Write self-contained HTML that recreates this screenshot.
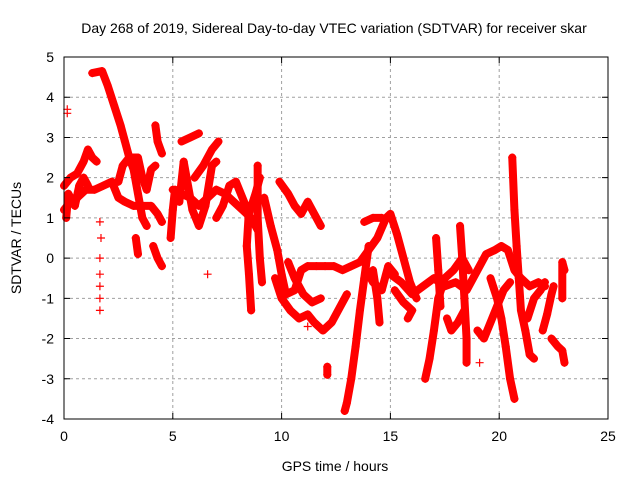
<!DOCTYPE html>
<html><head><meta charset="utf-8"><style>
body{margin:0;background:#fff;}
svg{display:block;font-family:"Liberation Sans",sans-serif;}
</style></head><body>
<svg id="chart" width="640" height="480" viewBox="0 0 640 480" xmlns="http://www.w3.org/2000/svg">
<rect width="640" height="480" fill="#fff"/>
<text x="334" y="33" font-size="14" text-anchor="middle">Day 268 of 2019, Sidereal Day-to-day VTEC variation (SDTVAR) for receiver skar</text>
<text x="335" y="471" font-size="14" text-anchor="middle">GPS time / hours</text>
<text x="0" y="0" font-size="14" text-anchor="middle" transform="translate(21,238) rotate(-90)">SDTVAR / TECUs</text>
<g id="grid"></g><g id="series"></g><g id="axes"></g>
</svg>
<script>
const xTicks=[0,5,10,15,20,25];
const yTicks=[-4,-3,-2,-1,0,1,2,3,4,5];
const tracks=[
[[0,1.2],[0.3,1.4],[0.6,1.5],[1,1.7],[1.4,1.7],[1.8,1.8],[2.2,1.9],[2.5,1.5],[2.8,1.4],[3.2,1.3],[3.6,1.3],[4,1.3],[4.3,1.1],[4.5,0.9]],
[[0,1.8],[0.3,2.0],[0.6,2.1],[0.9,2.4],[1.1,2.7],[1.3,2.5],[1.5,2.4]],
[[0.1,1.0],[0.2,1.6],[0.5,1.3],[0.7,1.8],[0.9,2.0],[1.1,1.8]],
[[1.3,4.6],[1.75,4.65],[2.0,4.3],[2.3,3.8],[2.6,3.3],[2.8,2.9],[3.0,2.5],[3.2,2.2],[3.4,1.6],[3.6,1.0],[3.8,0.8]],
[[2.5,1.9],[2.7,2.3],[3.0,2.5],[3.4,2.5],[3.6,2.0],[3.8,1.7],[4.0,2.2],[4.2,2.3]],
[[3.3,0.5],[3.4,0.1]],
[[4.2,3.3],[4.3,2.9],[4.5,2.6]],
[[4.1,0.3],[4.3,0.0],[4.5,-0.2]],
[[4.9,0.5],[5.0,1.2],[5.1,1.7],[5.3,1.4],[5.5,2.4],[5.7,1.8],[5.9,1.2],[6.2,0.8],[6.5,1.3],[6.8,2.3],[7.0,2.4]],
[[5.0,1.7],[5.4,1.6],[5.8,1.5],[6.2,1.3],[6.6,1.5],[7.0,1.7],[7.4,1.6],[7.8,1.4],[8.2,1.2],[8.6,1.0],[8.9,0.7]],
[[5.4,2.9],[5.8,3.0],[6.2,3.1]],
[[6.0,2.0],[6.4,2.3],[6.8,2.7],[7.1,2.9]],
[[7.0,1.0],[7.3,1.3],[7.6,1.8],[7.9,1.9],[8.2,1.5],[8.5,1.1],[8.8,1.6],[9,2.0]],
[[9.9,1.9],[10.3,1.6],[10.6,1.3],[10.9,1.1],[11.2,1.4],[11.5,1.1],[11.8,0.8]],
[[9.2,1.5],[9.5,0.8],[9.8,0.2],[10.0,-0.4],[10.2,-0.9],[10.6,-0.8],[10.9,-0.3],[11.2,-0.2],[11.6,-0.2],[12,-0.2],[12.4,-0.2],[12.8,-0.3],[13.2,-0.2],[13.6,-0.1],[14,0.2],[14.4,0.5],[14.8,1.0],[15,1.1],[15.3,0.6],[15.6,0.0],[15.9,-0.6],[16.2,-1.0]],
[[8.5,1.2],[8.4,0.3],[8.5,-0.4],[8.6,-1.3]],
[[8.9,2.3],[8.9,1.0],[9.0,0.0],[9.1,-0.6]],
[[9.7,-0.5],[10.0,-1.0],[10.4,-1.3],[10.8,-1.5],[11.2,-1.4],[11.5,-1.6],[11.9,-1.8],[12.3,-1.6],[12.7,-1.2],[13.0,-0.9]],
[[10.3,-0.1],[10.6,-0.5],[11.0,-0.9],[11.4,-1.1],[11.8,-1.0]],
[[14.0,0.3],[13.8,-0.5],[13.6,-1.3],[13.4,-2.2],[13.2,-3.0],[13.0,-3.6],[12.9,-3.8]],
[[12.1,-2.7],[12.1,-2.9]],
[[16.6,-3.0],[16.8,-2.5],[17.0,-1.8],[17.2,-1.0],[17.5,-0.5],[17.9,-0.3],[18.3,0.0],[18.6,-0.3]],
[[15.0,-0.4],[15.5,-0.6],[16.0,-0.9],[16.5,-0.7],[17,-0.5],[17.5,-0.7],[18,-0.6],[18.5,-0.8],[19,-0.3],[19.4,0.1],[19.8,0.2],[20.1,0.3],[20.4,0.2],[20.7,-0.3],[21,-0.5],[21.4,-0.7],[21.8,-0.6],[22.1,-0.7]],
[[18.2,0.8],[18.3,0],[18.4,-1.0],[18.5,-2.0],[18.5,-2.6]],
[[20.6,2.5],[20.7,1.2],[20.8,0.3],[20.9,-0.5],[21.0,-1.3],[21.2,-1.8],[21.4,-2.4],[21.6,-2.5]],
[[19.6,-0.5],[19.9,-1.0],[20.1,-1.5],[20.3,-2.2],[20.5,-3.0],[20.7,-3.5]],
[[19.0,-1.8],[19.3,-2.0],[19.6,-1.6],[19.9,-1.2],[20.2,-0.8],[20.5,-0.6]],
[[22.0,-1.8],[22.2,-1.4],[22.4,-0.9],[22.5,-0.7]],
[[22.4,-2.0],[22.7,-2.2],[22.9,-2.3],[23,-2.6]],
[[22.9,-1.0],[22.9,-0.1],[23,-0.3]],
[[21.3,-1.5],[21.6,-1.0],[21.9,-0.8],[22.1,-0.6]],
[[15.2,-0.8],[15.6,-1.1],[16.0,-1.3],[15.8,-1.5]],
[[17.6,-1.5],[17.8,-1.8],[18.1,-1.6],[18.4,-1.3]],
[[17.1,0.5],[17.2,-0.3],[17.3,-1.2]],
[[14.2,-0.3],[14.4,-1.0],[14.5,-1.6]],
[[13.8,0.9],[14.2,1.0],[14.6,1.0]],
[[13.9,-0.3],[14.2,-0.6],[14.6,-0.8],[14.9,-0.2],[15.2,-0.4]]
];
const sparse=[[1.65,0.9],[1.7,0.5],[1.65,0],[1.65,-0.4],[1.65,-0.7],[1.65,-1.0],[1.65,-1.3],[0.15,3.6],[0.15,3.7],[6.6,-0.4],[11.2,-1.7],[19.1,-2.6]];
const X0=64,X1=608,Y0=419,Y1=57;
const xS=v=>X0+(v-0)/25*(X1-X0);
const yS=v=>Y0-(v+4)/9*(Y0-Y1);
const NS='http://www.w3.org/2000/svg';
function mk(tag,attrs,parent){const e=document.createElementNS(NS,tag);for(const k in attrs)e.setAttribute(k,attrs[k]);parent.appendChild(e);return e;}
const grid=document.getElementById('grid'),axes=document.getElementById('axes'),ser=document.getElementById('series');
xTicks.forEach(t=>{const x=xS(t);
 if(t>0&&t<25){const g=mk('line',{x1:x,x2:x,y1:Y1,y2:Y0,stroke:'#a0a0a0','stroke-dasharray':'3,3'},grid);
 }
 const tk=mk('path',{d:`M${x},${Y0}v-6M${x},${Y1}v6`,stroke:'#000'},axes);
 
 const l=mk('text',{x:x,y:Y0+22,'font-size':14,'text-anchor':'middle'},axes);l.textContent=t;
 });
yTicks.forEach(t=>{const y=yS(t);
 if(t>-4&&t<5){const g=mk('line',{x1:X0,x2:X1,y1:y,y2:y,stroke:'#a0a0a0','stroke-dasharray':'3,3'},grid);
 }
 const tk=mk('path',{d:`M${X0},${y}h6M${X1},${y}h-6`,stroke:'#000'},axes);
 
 const l=mk('text',{x:X0-10,y:y+5,'font-size':14,'text-anchor':'end'},axes);l.textContent=t;
 });
const fr=mk('rect',{x:X0,y:Y1,width:X1-X0,height:Y0-Y1,fill:'none',stroke:'#000'},axes);

function plus(x,y){return `M${x-4},${y}h8M${x},${y-4}v8`;}
tracks.forEach(tr=>{
 const p=mk('polyline',{points:tr.map(d=>xS(d[0])+','+yS(d[1])).join(' '),fill:'none',stroke:'#ff0000','stroke-width':8,'stroke-linejoin':'round','stroke-linecap':'round'},ser);
 
 const m=mk('path',{d:tr.map(d=>plus(xS(d[0]),yS(d[1]))).join(''),stroke:'#ff0000','stroke-width':1.5,fill:'none'},ser);
 
});
const sp=mk('path',{d:sparse.map(d=>plus(xS(d[0]),yS(d[1]))).join(''),stroke:'#ff0000','stroke-width':1.2,fill:'none'},ser);

</script>
</body></html>
